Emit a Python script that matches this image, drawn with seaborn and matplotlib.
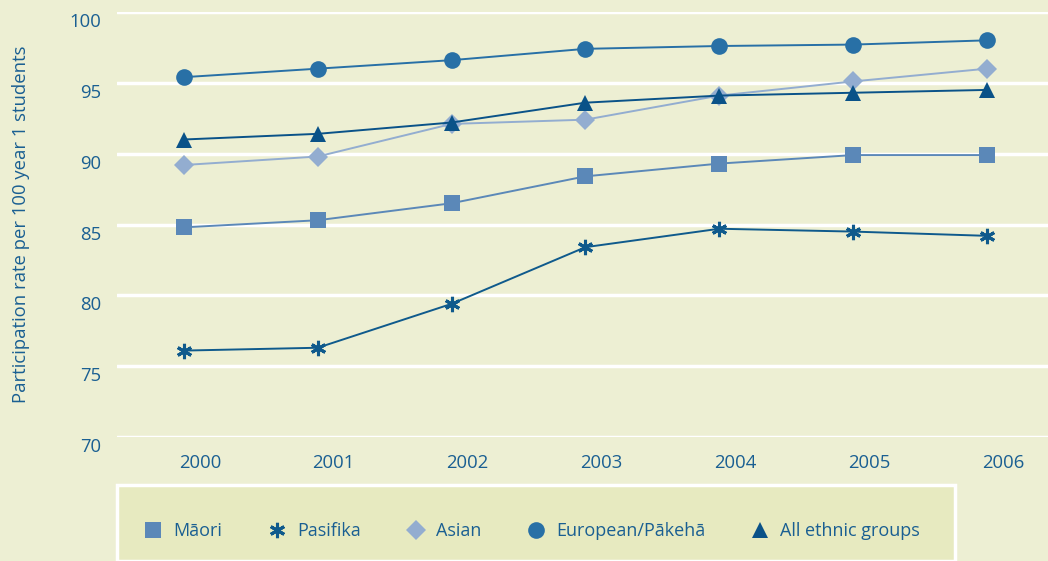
import matplotlib
matplotlib.use("Agg")
import matplotlib.pyplot as plt
import matplotlib.transforms as mtransforms
from matplotlib.patches import Rectangle
import seaborn as sns
import pandas as pd

years = [2000, 2001, 2002, 2003, 2004, 2005, 2006]
maori = [84.8, 85.3, 86.5, 88.4, 89.3, 89.9, 89.9]
pasifika = [76.1, 76.3, 79.4, 83.4, 84.7, 84.5, 84.2]
asian = [89.2, 89.8, 92.1, 92.4, 94.1, 95.1, 96.0]
european = [95.4, 96.0, 96.6, 97.4, 97.6, 97.7, 98.0]
all_groups = [91.0, 91.4, 92.2, 93.6, 94.1, 94.3, 94.5]
yticks = [70, 75, 80, 85, 90, 95, 100]

series = [
    ("Māori", maori, "s", "#5b88b8", 11),
    ("Pasifika", pasifika, (6, 2, 0), "#0f5a8c", 11),
    ("Asian", asian, "D", "#93add0", 10),
    ("European/Pākehā", european, "o", "#2870a6", 12),
    ("All ethnic groups", all_groups, "^", "#0a5288", 12),
]

bg = "#edefd3"
txt = "#1a5f92"

sns.set_style("white")
plt.rcParams["font.family"] = ["Open Sans", "DejaVu Sans"]

fig = plt.figure(figsize=(10.48, 5.61), dpi=100, facecolor=bg)
ax = fig.add_axes([117/1048, 1-437/561, 1-117/1048, (437-12)/561])
ax.set_facecolor(bg)

for name, vals, mk, col, ms in series:
    df = pd.DataFrame({"year": years, "val": vals})
    sns.lineplot(data=df, x="year", y="val", ax=ax, color=col, marker=mk,
                 markersize=ms, markeredgecolor=col, markeredgewidth=2.2 if mk == (6, 2, 0) else 0,
                 linewidth=1.4, label=name, clip_on=False, zorder=3)

ax.set_xlim(1999.5, 2006.456)
ax.set_ylim(70, 100)
ax.set_yticks(yticks)
ax.set_xticks(years)
ax.yaxis.grid(True, color="white", linewidth=2.5)
ax.set_axisbelow(True)
for s in ax.spines.values():
    s.set_visible(False)
ax.tick_params(axis="both", length=0, labelsize=13.3, labelcolor=txt)
ax.tick_params(axis="y", pad=11.5)
ax.tick_params(axis="x", pad=12)
off_y = mtransforms.ScaledTranslation(0, -8/100, fig.dpi_scale_trans)
for lab in ax.get_yticklabels():
    lab.set_transform(lab.get_transform() + off_y)
off_x = mtransforms.ScaledTranslation(16/100, 0, fig.dpi_scale_trans)
for lab in ax.get_xticklabels():
    lab.set_transform(lab.get_transform() + off_x)
ax.set_xlabel("")
ax.set_ylabel("Participation rate per 100 year 1 students", fontsize=13.3, color=txt, labelpad=0)
ax.yaxis.set_label_coords((30-117)/931, 0.5)

handles, labels = ax.get_legend_handles_labels()
ax.get_legend().remove()
box = Rectangle((117/1048, 0), (955-117)/1048, (561-491)/561 + 0.01,
                transform=fig.transFigure, facecolor="#e7eac0", edgecolor="white",
                linewidth=2.5, zorder=0)
fig.patches.append(box)
new_handles = []
for h in handles:
    h2 = plt.Line2D([], [], linestyle="none", marker=h.get_marker(), color=h.get_color(),
                    markersize=h.get_markersize(), markeredgecolor=h.get_color(),
                    markeredgewidth=h.get_markeredgewidth())
    new_handles.append(h2)
leg = fig.legend(new_handles, labels, loc="center left", bbox_to_anchor=(128/1048, 1-531/561),
                 ncol=5, frameon=False, fontsize=13, handlelength=1.0, handletextpad=0.6,
                 columnspacing=2.55)
for t in leg.get_texts():
    t.set_color(txt)

fig.savefig("out.png", dpi=100, facecolor=bg)
